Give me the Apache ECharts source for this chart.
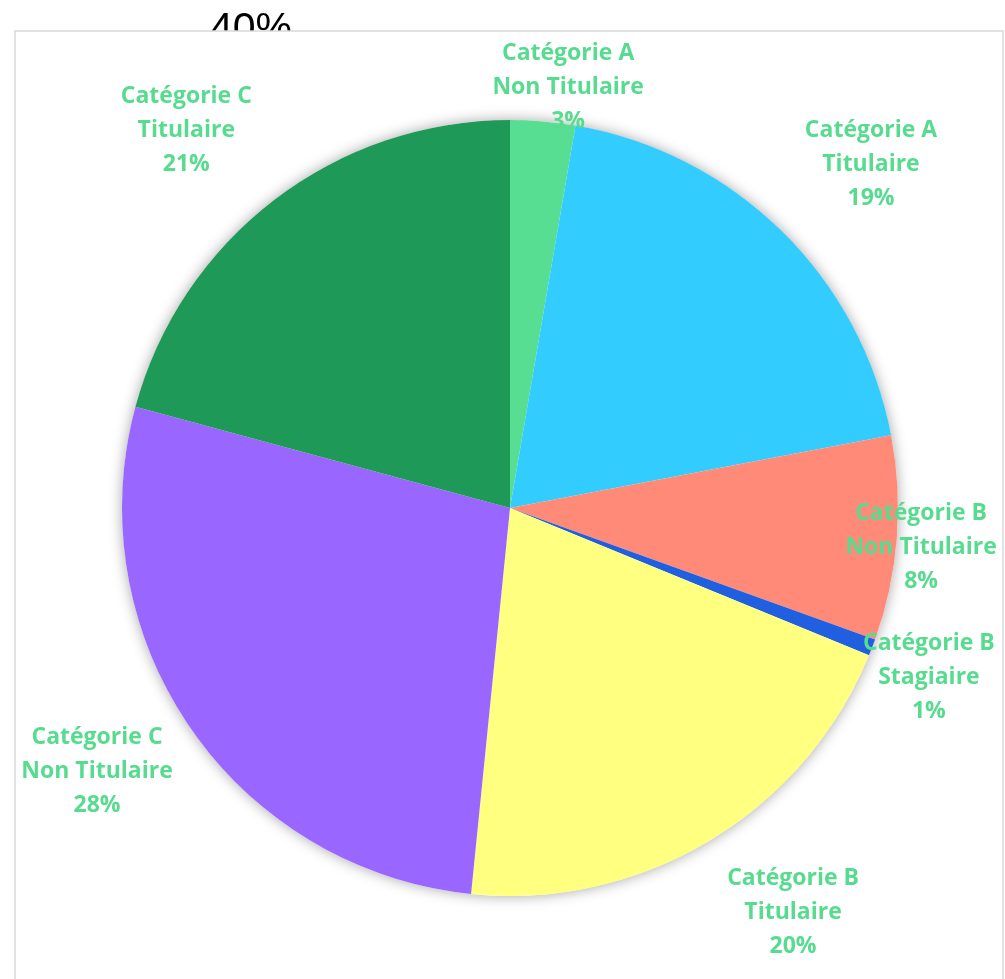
<!DOCTYPE html>
<html>
<head>
<meta charset="utf-8">
<script src="https://cdn.jsdelivr.net/npm/echarts@6/dist/echarts.min.js"></script>
<style>
  html, body { margin: 0; padding: 0; background: #fff; }
  #chart { width: 1005px; height: 979px; }
</style>
</head>
<body>
<div id="chart"></div>
<script>
// données (parts en %)
const grades = ['Catégorie A', 'Catégorie A', 'Catégorie B', 'Catégorie B', 'Catégorie B', 'Catégorie C', 'Catégorie C'];
const statuts = ['Non Titulaire', 'Titulaire', 'Non Titulaire', 'Stagiaire', 'Titulaire', 'Non Titulaire', 'Titulaire'];
const values = [2.7, 19.3, 8.5, 0.7, 20.4, 27.6, 20.8];
const colors = ['#57de92', '#33ccff', '#ff8a78', '#1f5fe0', '#ffff80', '#9966ff', '#1f9958'];

// placement des étiquettes (distance au centre, décalage angulaire)
const labelDist = [425, 498, 413, 452, 494, 490, 497];
const labelTurn = [3, 2, 1, 1, -4, 2, -3.2];

const cx = 510, cy = 508, r = 388;

const total = values.reduce((a, b) => a + b, 0);
let acc = 0;
const midAngles = values.map(v => {
    const m = (acc + v / 2) / total * 360;
    acc += v;
    return m;
});

const chart = echarts.init(document.getElementById('chart'));
const option = {
    animation: false,
    graphic: [
        {
            type: 'text',
            z: 0,
            style: {
                text: '40%',
                x: 251,
                y: 30,
                textAlign: 'center',
                textVerticalAlign: 'middle',
                font: '400 41px "Liberation Sans", sans-serif',
                fill: '#000'
            }
        },
        {
            type: 'rect',
            z: 1,
            shape: { x: 15, y: 31, width: 988, height: 980 },
            style: { fill: '#fff', stroke: '#d9d9d9', lineWidth: 1.5 }
        }
    ],
    series: [
        // fond pour l'ombre
        {
            type: 'pie',
            z: 2,
            silent: true,
            center: [cx, cy],
            radius: r,
            label: { show: false },
            labelLine: { show: false },
            itemStyle: {
                color: '#fff',
                shadowBlur: 14,
                shadowColor: 'rgba(0,0,0,0.35)'
            },
            data: [{ value: 1 }]
        },
        {
            type: 'pie',
            z: 3,
            center: [cx, cy],
            radius: r,
            startAngle: 90,
            clockwise: true,
            avoidLabelOverlap: false,
            percentPrecision: 0,
            label: {
                show: true,
                position: 'outside',
                color: '#57dc8f',
                fontFamily: '"Open Sans", sans-serif',
                fontWeight: 'bold',
                fontSize: 23,
                lineHeight: 34,
                align: 'center',
                formatter: p => grades[p.dataIndex] + '\n' + statuts[p.dataIndex] + '\n' + p.percent + '%'
            },
            labelLine: { show: false },
            labelLayout: p => {
                const i = p.dataIndex;
                const a = (midAngles[i] + labelTurn[i]) * Math.PI / 180;
                return {
                    x: cx + labelDist[i] * Math.sin(a),
                    y: cy - labelDist[i] * Math.cos(a),
                    align: 'center',
                    verticalAlign: 'middle'
                };
            },
            itemStyle: { borderWidth: 0 },
            data: values.map((v, i) => ({
                name: grades[i] + ' ' + statuts[i],
                value: v,
                itemStyle: { color: colors[i] }
            }))
        }
    ]
};
chart.setOption(option);
window.addEventListener('resize', function() {
    chart.resize();
});
</script>
</body>
</html>
